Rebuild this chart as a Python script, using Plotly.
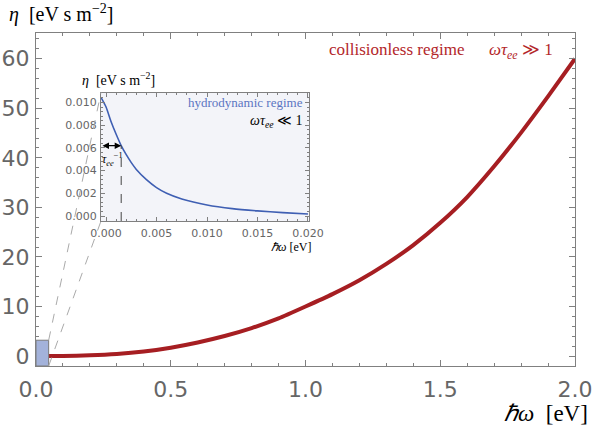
import plotly.graph_objects as go

# ---------------- data ----------------
# main panel: collisionless regime
omega_main = [0.047, 0.1, 0.2, 0.3, 0.4, 0.5, 0.6, 0.7, 0.8, 0.9, 1.0,
              1.1, 1.2, 1.3, 1.4, 1.5, 1.6, 1.7, 1.8, 1.9, 2.0]
eta_main = [0.0, 0.03, 0.15, 0.42, 0.92, 1.7, 2.75, 4.05, 5.65, 7.6, 10.0,
            12.5, 15.3, 18.6, 22.4, 26.9, 32.1, 38.3, 45.1, 52.4, 60.0]

# inset: hydrodynamic regime
omega_inset = [-0.0005, 0.0, 0.0005, 0.001, 0.0015, 0.002, 0.0025, 0.003,
               0.004, 0.005, 0.006, 0.0075, 0.01, 0.0125, 0.015, 0.0175, 0.02]
eta_inset = [0.01045, 0.0096, 0.0083, 0.0072, 0.0062, 0.0054, 0.0047, 0.0041,
             0.0032, 0.0025, 0.0020, 0.0015, 0.00097, 0.00065, 0.00045,
             0.0003, 0.00018]

tau_inv = 0.0015          # position of 1/tau_ee marker
eta_at_tau = 0.0062       # curve value there

zoom_box_x = [0.0, 0.047]
zoom_box_y = [-2.0, 3.2]

main_xticks = [0.0, 0.5, 1.0, 1.5, 2.0]
main_yticks = [0, 10, 20, 30, 40, 50, 60]
inset_xticks = [0.0, 0.005, 0.010, 0.015, 0.020]
inset_yticks = [0.0, 0.002, 0.004, 0.006, 0.008, 0.010]

# ---------------- layout geometry ----------------
W, H = 595, 437
main_dom_x = [36 / W, 575 / W]
main_dom_y = [1 - 366 / H, 1 - 33 / H]
main_rx = [0.0, 2.0]
main_ry = [-2.0, 65.2]

ins_dom_x = [101 / W, 309 / W]
ins_dom_y = [1 - 221 / H, 1 - 92.5 / H]
ins_rx = [-0.0005, 0.0201]
ins_ry = [-0.00044, 0.01088]

RED = "#a61e22"
RED_T = "#b3262a"
BLUE = "#3f5fb3"
BLUE_T = "#5b75c2"
FRAME = "#808080"
TICKTXT = "#666666"


def px(xp):
    return xp / W


def py(yp):
    return 1 - yp / H


def main_to_paper(x, y):
    fx = main_dom_x[0] + (x - main_rx[0]) / (main_rx[1] - main_rx[0]) * (main_dom_x[1] - main_dom_x[0])
    fy = main_dom_y[0] + (y - main_ry[0]) / (main_ry[1] - main_ry[0]) * (main_dom_y[1] - main_dom_y[0])
    return fx, fy


fig = go.Figure()

fig.add_trace(go.Scatter(x=omega_main, y=eta_main, mode="lines",
                         line=dict(color=RED, width=4, shape="spline", smoothing=0.5),
                         xaxis="x", yaxis="y", showlegend=False, hoverinfo="skip"))
fig.add_trace(go.Scatter(x=omega_inset, y=eta_inset, mode="lines",
                         line=dict(color=BLUE, width=1.6, shape="spline", smoothing=0.6),
                         xaxis="x2", yaxis="y2", showlegend=False, hoverinfo="skip"))

axis_common = dict(showgrid=False, zeroline=False, showline=True, linecolor=FRAME,
                   linewidth=1, mirror="ticks", ticks="inside", tickcolor=FRAME,
                   automargin=False)

fig.update_layout(
    width=W, height=H, margin=dict(l=0, r=0, t=0, b=0, autoexpand=False),
    paper_bgcolor="white", plot_bgcolor="rgba(0,0,0,0)",
    xaxis=dict(domain=main_dom_x, range=main_rx, tickvals=main_xticks,
               ticktext=[f"{v:.1f}" for v in main_xticks], ticklen=6,
               tickfont=dict(family="DejaVu Sans", size=22, color=TICKTXT),
               minor=dict(dtick=0.1, ticklen=3, ticks="inside", tickcolor=FRAME),
               ticklabelstandoff=4, anchor="y", **axis_common),
    yaxis=dict(domain=main_dom_y, range=main_ry, tickvals=main_yticks,
               ticktext=[str(v) for v in main_yticks], ticklen=6,
               tickfont=dict(family="DejaVu Sans", size=22, color=TICKTXT),
               minor=dict(dtick=2, ticklen=3, ticks="inside", tickcolor=FRAME),
               ticklabelstandoff=1, anchor="x", **axis_common),
    xaxis2=dict(domain=ins_dom_x, range=ins_rx, tickvals=inset_xticks,
                ticktext=[f"{v:.3f}" for v in inset_xticks], ticklen=4,
                tickfont=dict(family="DejaVu Sans", size=11, color=TICKTXT),
                minor=dict(dtick=0.001, ticklen=2, ticks="inside", tickcolor=FRAME),
                ticklabelstandoff=2, anchor="y2", **axis_common),
    yaxis2=dict(domain=ins_dom_y, range=ins_ry, tickvals=inset_yticks,
                ticktext=[f"{v:.3f}" for v in inset_yticks], ticklen=4,
                tickfont=dict(family="DejaVu Sans", size=11, color=TICKTXT),
                minor=dict(dtick=0.0004, ticklen=2, ticks="inside", tickcolor=FRAME),
                ticklabelstandoff=1, anchor="x2", **axis_common),
)

shapes = []
# inset background
shapes.append(dict(type="rect", xref="x2 domain", yref="y2 domain", x0=0, x1=1, y0=0, y1=1,
                   fillcolor="#f3f4f9", line=dict(width=0), layer="below"))
# zoom box in main
shapes.append(dict(type="rect", xref="x", yref="y", x0=zoom_box_x[0], x1=zoom_box_x[1],
                   y0=zoom_box_y[0], y1=zoom_box_y[1], fillcolor="#a3b2da",
                   line=dict(color="#7a7a7a", width=1), layer="above"))
# connector lines
bx_tr = main_to_paper(zoom_box_x[1], zoom_box_y[1])
bx_br = main_to_paper(zoom_box_x[1], zoom_box_y[0])
shapes.append(dict(type="line", xref="paper", yref="paper", x0=bx_tr[0], y0=bx_tr[1],
                   x1=ins_dom_x[0], y1=ins_dom_y[1], line=dict(color="#aaaaaa", width=1, dash="dash")))
shapes.append(dict(type="line", xref="paper", yref="paper", x0=bx_br[0], y0=bx_br[1],
                   x1=ins_dom_x[0], y1=ins_dom_y[0], line=dict(color="#aaaaaa", width=1, dash="dash")))
# dashed vertical marker in inset
shapes.append(dict(type="line", xref="x2", yref="y2", x0=tau_inv, x1=tau_inv,
                   y0=ins_ry[0], y1=eta_at_tau, line=dict(color="#444444", width=1, dash="dash")))
fig.update_layout(shapes=shapes)

ann = []
ser = "Liberation Serif"
ann.append(dict(xref="paper", yref="paper", x=px(7), y=py(13), xanchor="left", yanchor="middle",
                text="<i>η</i>  [eV s m<sup>−2</sup>]", showarrow=False,
                font=dict(family=ser, size=20, color="black")))
ann.append(dict(xref="paper", yref="paper", x=px(590), y=py(413), xanchor="right", yanchor="middle",
                text="<i>ℏω</i>  [eV]", showarrow=False,
                font=dict(family=ser, size=23, color="black")))
ann.append(dict(xref="paper", yref="paper", x=px(327), y=py(50), xanchor="left", yanchor="middle",
                text="collisionless regime", showarrow=False,
                font=dict(family=ser, size=17, color=RED_T)))
ann.append(dict(xref="paper", yref="paper", x=px(487), y=py(51), xanchor="left", yanchor="middle",
                text="<i>ωτ</i><sub><i>ee</i></sub> ≫ 1", showarrow=False,
                font=dict(family=ser, size=17, color=RED_T)))
ann.append(dict(xref="paper", yref="paper", x=px(80), y=py(79), xanchor="left", yanchor="middle",
                text="<i>η</i>  [eV s m<sup>−2</sup>]", showarrow=False,
                font=dict(family=ser, size=14, color="black")))
ann.append(dict(xref="paper", yref="paper", x=px(305), y=py(102), xanchor="right", yanchor="middle",
                text="hydrodynamic regime", showarrow=False,
                font=dict(family=ser, size=13, color=BLUE_T)))
ann.append(dict(xref="paper", yref="paper", x=px(305), y=py(121), xanchor="right", yanchor="middle",
                text="<i>ωτ</i><sub><i>ee</i></sub> ≪ 1", showarrow=False,
                font=dict(family=ser, size=14, color="black")))
ann.append(dict(xref="paper", yref="paper", x=px(112), y=py(159), xanchor="center", yanchor="middle",
                text="<i>τ</i><sub><i>ee</i></sub><sup>−1</sup>", showarrow=False,
                font=dict(family=ser, size=12, color="black")))
ann.append(dict(xref="paper", yref="paper", x=px(313), y=py(247), xanchor="right", yanchor="middle",
                text="<i>ℏω</i> [eV]", showarrow=False,
                font=dict(family=ser, size=12, color="black")))
# double-headed arrow
ann.append(dict(xref="x2", yref="y2", axref="x2", ayref="y2", x=tau_inv, y=eta_at_tau,
                ax=ins_rx[0], ay=eta_at_tau, text="", showarrow=True, arrowside="end+start",
                arrowhead=2, arrowsize=1, arrowwidth=1.3, arrowcolor="black"))
fig.update_layout(annotations=ann)

fig.write_html("out.html", config={"displayModeBar": False},
               post_script="document.body.style.margin='0';document.body.style.overflow='hidden';")
